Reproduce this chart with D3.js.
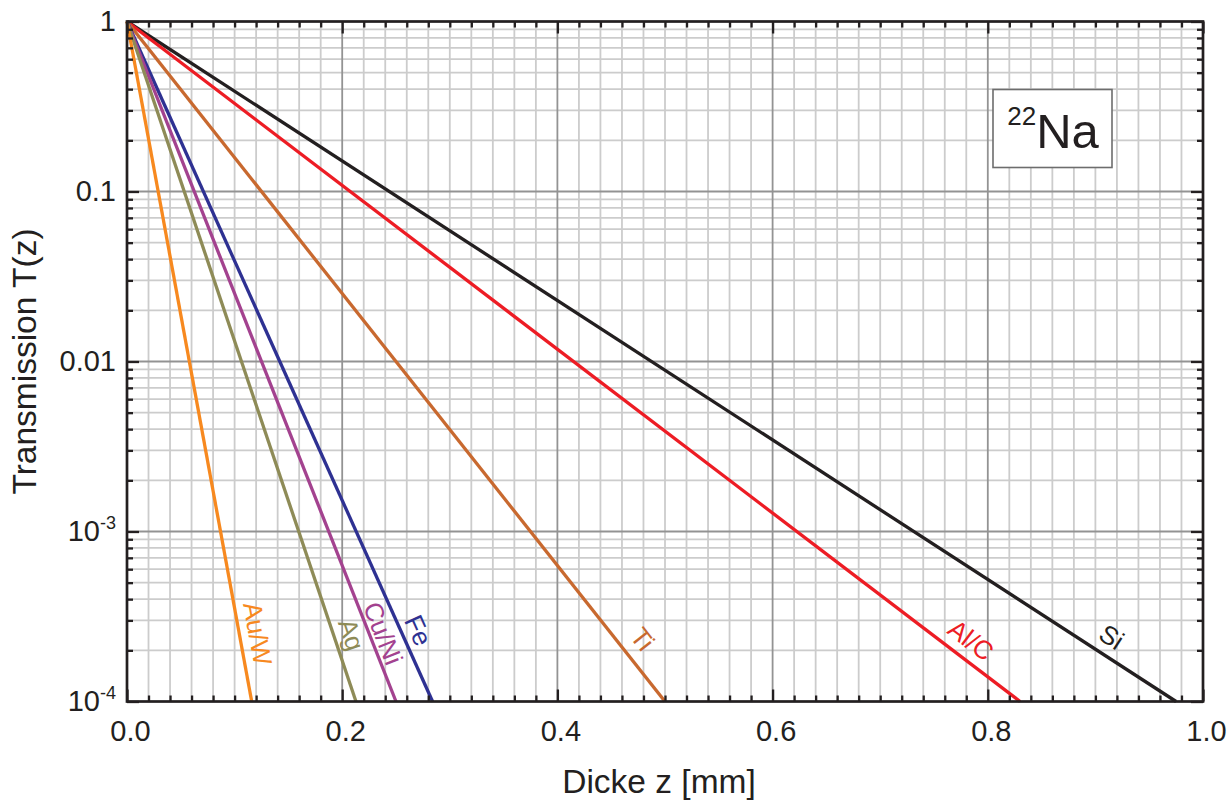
<!DOCTYPE html>
<html>
<head>
<meta charset="utf-8">
<script src="https://cdn.jsdelivr.net/npm/d3@7"></script>
<style>
  body { margin: 0; background: #fff; }
  text { font-family: "Liberation Sans", Arial, Helvetica, sans-serif; fill: #231f20; }
</style>
</head>
<body>
<div id="chart"></div>
<script>
// series: all curves start at T(0) = 1 and fall to 1e-4 at zEnd
var names = ["Si", "Al/C", "Ti", "Fe", "Cu/Ni", "Ag", "Au/W"];
var zEnd = [0.975, 0.830, 0.500, 0.284, 0.250, 0.2128, 0.1159];
var tEnd = 1e-4;
var colors = ["#231f20", "#ed1c24", "#c8692f", "#2e3192", "#a3428f", "#8e8b57", "#f7891f"];
// transmission value where each curve label sits
var labelT = [1.93e-4, 1.87e-4, 1.95e-4, 2.4e-4, 2.36e-4, 2.3e-4, 2.4e-4];

var xMajor = [0, 0.2, 0.4, 0.6, 0.8, 1.0];
var yMajor = [1, 0.1, 0.01, 1e-3, 1e-4];
var yLabels = [["1", ""], ["0.1", ""], ["0.01", ""], ["10", "-3"], ["10", "-4"]];

var W = 1231, H = 803;
var pLeft = 127, pRight = 1203, pTop = 21.5, pBottom = 701.5;

var svg = d3.select("#chart").append("svg")
    .attr("width", W)
    .attr("height", H);

var x = d3.scaleLinear().domain([0, 1]).range([pLeft, pRight]);
var y = d3.scaleLog().domain([1e-4, 1]).range([pBottom, pTop]);

// tick sets
var xMinor = d3.range(1, 50).map(function(i) { return i * 0.02; })
    .filter(function(v) { return Math.abs(v / 0.2 - Math.round(v / 0.2)) > 1e-6; });
var yMinor = [];
[-4, -3, -2, -1].forEach(function(k) {
  for (var m = 2; m <= 9; m++) yMinor.push(m * Math.pow(10, k));
});

// grid
var grid = svg.append("g").attr("class", "grid");
grid.selectAll(".vminor").data(xMinor).enter().append("line")
    .attr("x1", function(d) { return x(d); }).attr("x2", function(d) { return x(d); })
    .attr("y1", pTop).attr("y2", pBottom)
    .attr("stroke", "#cccccc").attr("stroke-width", 1.8);
grid.selectAll(".hminor").data(yMinor).enter().append("line")
    .attr("y1", function(d) { return y(d); }).attr("y2", function(d) { return y(d); })
    .attr("x1", pLeft).attr("x2", pRight)
    .attr("stroke", "#cccccc").attr("stroke-width", 1.8);
grid.selectAll(".vmajor").data(xMajor.slice(1, -1)).enter().append("line")
    .attr("x1", function(d) { return x(d); }).attr("x2", function(d) { return x(d); })
    .attr("y1", pTop).attr("y2", pBottom)
    .attr("stroke", "#939393").attr("stroke-width", 1.8);
grid.selectAll(".hmajor").data(yMajor.slice(1, -1)).enter().append("line")
    .attr("y1", function(d) { return y(d); }).attr("y2", function(d) { return y(d); })
    .attr("x1", pLeft).attr("x2", pRight)
    .attr("stroke", "#939393").attr("stroke-width", 1.8);

// the curves
var line = d3.line()
    .x(function(d) { return x(d[0]); })
    .y(function(d) { return y(d[1]); });

var curves = names.map(function(n, i) {
  return { name: n, color: colors[i], pts: [[0, 1], [zEnd[i], tEnd]], labelT: labelT[i] };
});

svg.append("g").selectAll("path").data(curves).enter().append("path")
    .attr("d", function(d) { return line(d.pts); })
    .attr("fill", "none")
    .attr("stroke", function(d) { return d.color; })
    .attr("stroke-width", 3.3);

// curve labels, rotated along each line
var labelGap = [19, 19, 21, 16, 13, 17, 18];
svg.append("g").selectAll("text").data(curves).enter().append("text")
    .attr("transform", function(d, i) {
      var x0 = x(d.pts[0][0]), y0 = y(d.pts[0][1]);
      var x1 = x(d.pts[1][0]), y1 = y(d.pts[1][1]);
      var a = Math.atan2(y1 - y0, x1 - x0);
      var py = y(d.labelT);
      var px = x0 + (py - y0) / (y1 - y0) * (x1 - x0);
      var cx = px + labelGap[i] * Math.sin(a);
      var cy = py - labelGap[i] * Math.cos(a);
      return "translate(" + cx + "," + cy + ") rotate(" + (a * 180 / Math.PI) + ")";
    })
    .attr("text-anchor", "middle")
    .attr("dominant-baseline", "central")
    .attr("font-size", 26)
    .style("fill", function(d) { return d.color; })
    .text(function(d) { return d.name; });

// axes with inward ticks on all four sides
function styleAxis(g) {
  g.select(".domain").remove();
  g.selectAll(".tick line").attr("stroke", "#231f20").attr("stroke-width", 2.3);
}

svg.append("g").attr("transform", "translate(0," + pBottom + ")")
    .call(d3.axisBottom(x).tickValues(xMinor).tickSize(-6).tickFormat(""))
    .call(styleAxis);
svg.append("g").attr("transform", "translate(0," + pTop + ")")
    .call(d3.axisTop(x).tickValues(xMinor).tickSize(-6).tickFormat(""))
    .call(styleAxis);
svg.append("g").attr("transform", "translate(0," + pTop + ")")
    .call(d3.axisTop(x).tickValues(xMajor).tickSize(-12).tickFormat(""))
    .call(styleAxis);

var xAxis = svg.append("g").attr("transform", "translate(0," + pBottom + ")")
    .call(d3.axisBottom(x).tickValues(xMajor).tickSize(-12).tickPadding(19)
      .tickFormat(d3.format(".1f")))
    .call(styleAxis);
xAxis.selectAll(".tick text")
    .attr("font-size", 29)
    .attr("dx", 3);

svg.append("g").attr("transform", "translate(" + pLeft + ",0)")
    .call(d3.axisLeft(y).tickValues(yMinor).tickSize(-6).tickFormat(""))
    .call(styleAxis);
svg.append("g").attr("transform", "translate(" + pRight + ",0)")
    .call(d3.axisRight(y).tickValues(yMinor).tickSize(-6).tickFormat(""))
    .call(styleAxis);
svg.append("g").attr("transform", "translate(" + pRight + ",0)")
    .call(d3.axisRight(y).tickValues(yMajor).tickSize(-12).tickFormat(""))
    .call(styleAxis);

var yAxis = svg.append("g").attr("transform", "translate(" + pLeft + ",0)")
    .call(d3.axisLeft(y).tickValues(yMajor).tickSize(-12).tickPadding(11).tickFormat(""))
    .call(styleAxis);
yAxis.selectAll(".tick text")
    .attr("font-size", 29)
    .each(function(d) {
      var t = d3.select(this);
      var lab = yLabels[yMajor.indexOf(d)];
      t.text(null);
      t.append("tspan").text(lab[0]);
      if (lab[1]) {
        t.append("tspan").attr("font-size", 18).attr("dy", -12).text(lab[1]);
      }
    });

// plot frame
svg.append("rect")
    .attr("x", pLeft).attr("y", pTop)
    .attr("width", pRight - pLeft).attr("height", pBottom - pTop)
    .attr("fill", "none")
    .attr("stroke", "#231f20")
    .attr("stroke-width", 2.7);

// axis titles
svg.append("text")
    .attr("x", 659).attr("y", 793)
    .attr("text-anchor", "middle")
    .attr("font-size", 33.5)
    .text("Dicke z [mm]");

svg.append("text")
    .attr("transform", "translate(36," + ((pTop + pBottom) / 2) + ") rotate(-90)")
    .attr("text-anchor", "middle")
    .attr("font-size", 33.5)
    .text("Transmission T(z)");

// isotope box
var box = svg.append("g");
box.append("rect")
    .attr("x", 993).attr("y", 89.5)
    .attr("width", 119).attr("height", 78)
    .attr("fill", "#fff")
    .attr("stroke", "#6d6d6d")
    .attr("stroke-width", 1.6);
var iso = box.append("text")
    .attr("x", 1053).attr("y", 148)
    .attr("text-anchor", "middle")
    .attr("font-size", 49);
iso.append("tspan").attr("font-size", 26).attr("dy", -23).text("22");
iso.append("tspan").attr("dy", 23).text("Na");
</script>
</body>
</html>
